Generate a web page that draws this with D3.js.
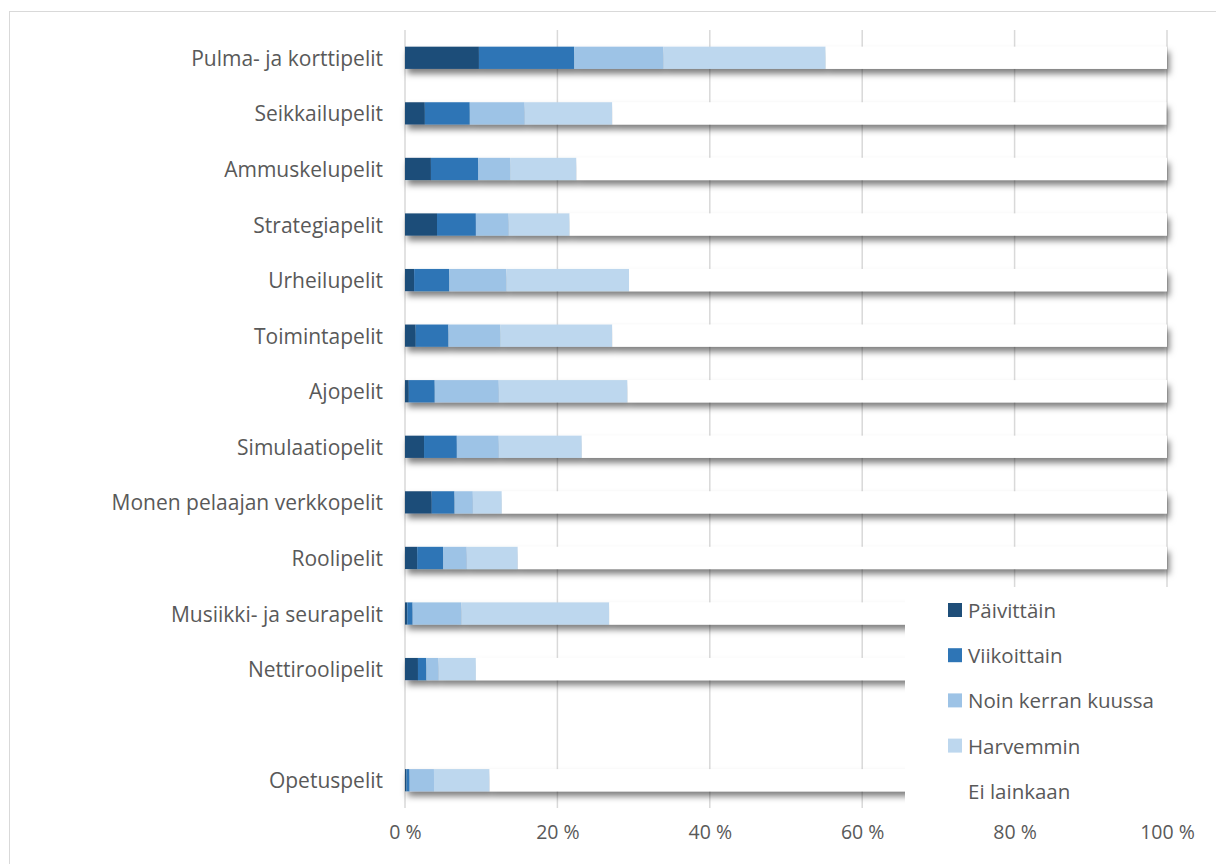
<!DOCTYPE html>
<html>
<head>
<meta charset="utf-8">
<script src="https://cdn.jsdelivr.net/npm/d3@7/dist/d3.min.js"></script>
<style>
  html, body { margin: 0; padding: 0; background: #fff; }
  svg { display: block; font-family: "Open Sans", "Noto Sans", sans-serif; }
</style>
</head>
<body>
<div id="chart"></div>
<script>
// Game genres, top to bottom (one blank slot before the last row)
const categories = [
  "Pulma- ja korttipelit", "Seikkailupelit", "Ammuskelupelit", "Strategiapelit",
  "Urheilupelit", "Toimintapelit", "Ajopelit", "Simulaatiopelit",
  "Monen pelaajan verkkopelit", "Roolipelit", "Musiikki- ja seurapelit",
  "Nettiroolipelit", "", "Opetuspelit"
];
const seriesNames = ["Päivittäin", "Viikoittain", "Noin kerran kuussa", "Harvemmin", "Ei lainkaan"];

// Share of respondents (%) per frequency
const daily   = [9.7, 2.6, 3.4, 4.2, 1.2, 1.4, 0.5, 2.5, 3.5, 1.6, 0.3, 1.7, null, 0.2];
const weekly  = [12.5, 5.9, 6.2, 5.1, 4.6, 4.3, 3.4, 4.3, 3.0, 3.4, 0.7, 1.1, null, 0.4];
const monthly = [11.7, 7.2, 4.2, 4.3, 7.5, 6.8, 8.4, 5.5, 2.4, 3.1, 6.4, 1.6, null, 3.2];
const rarely  = [21.3, 11.5, 8.7, 8.0, 16.1, 14.7, 16.9, 10.9, 3.8, 6.7, 19.4, 4.9, null, 7.3];
const never   = [44.8, 72.7, 77.5, 78.4, 70.6, 72.8, 70.8, 76.8, 87.3, 85.2, 73.2, 90.7, null, 88.9];

const tickValues = [0, 20, 40, 60, 80, 100];
const colors = ["#1F4E79", "#2E75B6", "#9DC3E6", "#BDD7EE", "#FFFFFF"];

const W = 1216, H = 864;
const margin = { top: 30, left: 405, right: 49, bottom: 56 };
const innerW = W - margin.left - margin.right;
const innerH = H - margin.top - margin.bottom;

const svg = d3.select("#chart").append("svg")
  .attr("width", W).attr("height", H);

const defs = svg.append("defs");
const shadow = defs.append("filter").attr("id", "barShadow")
  .attr("x", "-5%").attr("y", "-30%").attr("width", "115%").attr("height", "200%");
shadow.append("feDropShadow")
  .attr("dx", 2.5).attr("dy", 5).attr("stdDeviation", 3)
  .attr("flood-color", "#000").attr("flood-opacity", 0.5);

// chart frame
svg.append("rect")
  .attr("x", 9.5).attr("y", 11.5).attr("width", W + 10).attr("height", H + 10)
  .attr("fill", "#fff").attr("stroke", "#d9d9d9").attr("stroke-width", 1);

const g = svg.append("g").attr("transform", `translate(${margin.left},${margin.top})`);

const x = d3.scaleLinear().domain([0, 100]).range([0, innerW]);
const y = d3.scaleBand().domain(d3.range(categories.length)).range([0, innerH]).paddingInner(0.6).paddingOuter(0.3);

// vertical gridlines
g.append("g").selectAll("line").data(tickValues.slice(1)).join("line")
  .attr("x1", d => x(d)).attr("x2", d => x(d))
  .attr("y1", 0).attr("y2", innerH)
  .attr("stroke", "#d9d9d9").attr("stroke-width", 1.5);

// category axis line
g.append("line").attr("x1", 0).attr("x2", 0).attr("y1", 0).attr("y2", innerH)
  .attr("stroke", "#d9d9d9").attr("stroke-width", 1.5);

// stacked rows
const rows = categories.map((c, i) => ({
  cat: c, i,
  vals: [daily[i], weekly[i], monthly[i], rarely[i], never[i]]
})).filter(r => r.vals[0] !== null);

const stack = d3.stack().keys(d3.range(5)).value((r, k) => r.vals[k]);
const layers = stack(rows);

const rowG = g.append("g").selectAll("g").data(rows).join("g")
  .attr("filter", "url(#barShadow)");
rowG.each(function(r, ri) {
  d3.select(this).selectAll("rect").data(layers.map((L, k) => ({ seg: L[ri], k }))).join("rect")
    .attr("x", d => x(d.seg[0]))
    .attr("width", d => x(d.seg[1]) - x(d.seg[0]))
    .attr("y", y(r.i))
    .attr("height", y.bandwidth())
    .attr("fill", d => colors[d.k]);
});

// category labels
g.append("g").selectAll("text").data(categories).join("text")
  .attr("x", -22).attr("y", (d, i) => y(i) + y.bandwidth() / 2)
  .attr("text-anchor", "end").attr("dominant-baseline", "central")
  .attr("font-size", 21).attr("fill", "#595959")
  .text(d => d);

// value axis
const xAxis = d3.axisBottom(x).tickValues(tickValues).tickSize(0).tickPadding(17)
  .tickFormat(d => d + "\u00a0%");
const ax = g.append("g").attr("transform", `translate(0,${innerH})`).call(xAxis);
ax.select(".domain").remove();
ax.selectAll("text").attr("font-size", 19.5).attr("fill", "#595959")
  .attr("font-family", "\"Open Sans\", sans-serif");

// legend (drawn over the plot on a white panel)
const leg = svg.append("g").attr("transform", "translate(905,587)");
leg.append("rect").attr("x", 0).attr("y", 0).attr("width", 300).attr("height", 221).attr("fill", "#fff");
const items = leg.selectAll("g").data(seriesNames).join("g")
  .attr("transform", (d, i) => `translate(43,${23 + i * 45.2})`);
items.filter((d, i) => i < 4).append("rect")
  .attr("x", 0).attr("y", -7).attr("width", 14).attr("height", 14)
  .attr("fill", (d, i) => colors[i]);
items.append("text").attr("x", 20).attr("y", 0)
  .attr("dominant-baseline", "central")
  .attr("font-size", 20.5).attr("fill", "#595959")
  .text(d => d);
</script>
</body>
</html>
